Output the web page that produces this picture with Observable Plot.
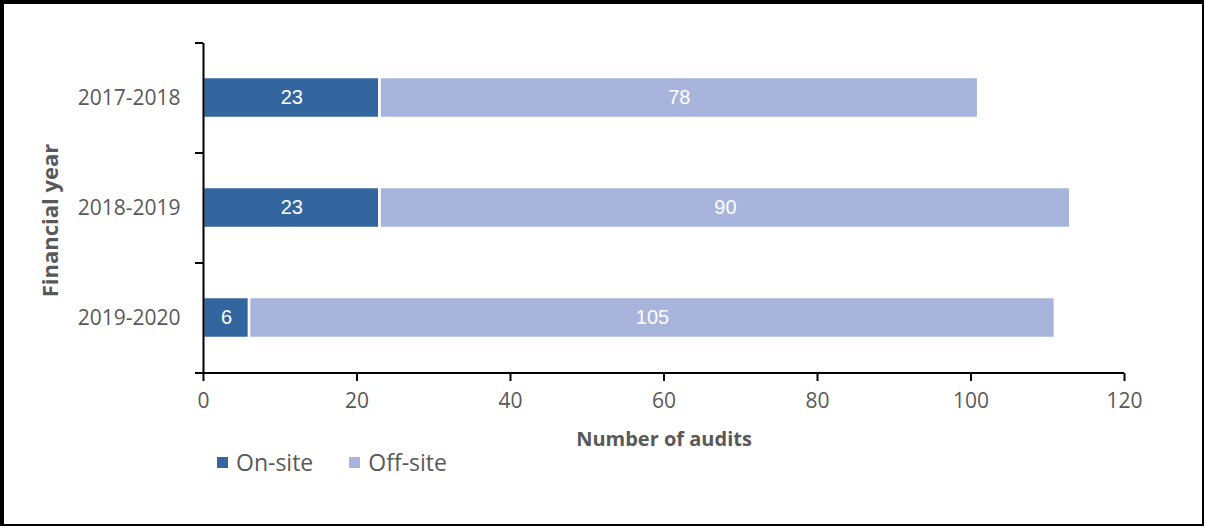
<!DOCTYPE html>
<html>
<head>
<meta charset="utf-8">
<script src="https://cdn.jsdelivr.net/npm/d3@7"></script>
<script src="https://cdn.jsdelivr.net/npm/@observablehq/plot@0.6"></script>
<style>
  html, body { margin: 0; padding: 0; background: #fff; }
  #wrap { position: relative; width: 1205px; height: 528px; overflow: hidden; font-family: "Open Sans", sans-serif; }
  #border { position: absolute; left: 0px; top: 0px; width: 1204px; height: 526px; box-sizing: border-box; border-style: solid; border-color: #000; border-width: 4px 2px 2px 4px; pointer-events: none; }
  #chart { position: absolute; left: 0; top: 0; }
  #legend { position: absolute; left: 217px; top: 451px; display: flex; align-items: center; font-size: 23px; line-height: 23px; color: #595959; font-family: "Open Sans", sans-serif; }
  .item { display: flex; align-items: center; }
  .sw { width: 11px; height: 11px; margin-right: 8px; }
</style>
</head>
<body>
<div id="wrap">
  <div id="chart"></div>
  <div id="legend"></div>
  <div id="border"></div>
</div>
<script>
const years = ["2017-2018", "2018-2019", "2019-2020"];
const series = ["On-site", "Off-site"];
const onSite = [23, 23, 6];
const offSite = [78, 90, 105];
const colors = ["#33669F", "#A9B4DD"];
const xTicks = [0, 20, 40, 60, 80, 100, 120];

const data = [];
years.forEach((y, i) => {
  data.push({year: y, type: series[0], value: onSite[i]});
  data.push({year: y, type: series[1], value: offSite[i]});
});

const W = 1205, H = 451;
const mTop = 43, mBottom = H - 373;
const step = (H - mTop - mBottom) / years.length;
const axisColor = "#000";
const textColor = "#595959";

const chart = Plot.plot({
  width: W,
  height: H,
  marginLeft: 203,
  marginRight: 81,
  marginTop: mTop,
  marginBottom: mBottom,
  style: {fontFamily: "Open Sans, sans-serif", background: "transparent", overflow: "visible"},
  x: {domain: [0, 120], axis: null},
  y: {domain: years, paddingInner: 0.627, paddingOuter: 0.3135, axis: null},
  color: {domain: series, range: colors},
  marks: [
    Plot.barX(data, Plot.stackX({x: "value", y: "year", fill: "type", stroke: "white", strokeWidth: 2.5})),
    Plot.text(data, Plot.stackX({x: "value", y: "year", z: "type", text: d => String(d.value), fill: "white", fontSize: 20, fontFamily: "Liberation Sans, Arial, sans-serif"})),
    // y axis line
    Plot.ruleX([0], {stroke: axisColor, strokeWidth: 2}),
    // x axis line
    Plot.ruleY([years[years.length - 1]], {stroke: axisColor, strokeWidth: 2, dy: step / 2, insetLeft: -8}),
    // y category labels
    Plot.axisY({tickSize: 0, tickPadding: 23, fontSize: 21, color: textColor, label: null}),
    // y boundary ticks
    Plot.axisY({tickSize: 8, tickFormat: () => "", label: null, dy: -step / 2, stroke: axisColor, strokeWidth: 2}),
    Plot.axisY([years[years.length - 1]], {tickSize: 8, tickFormat: () => "", label: null, dy: step / 2, stroke: axisColor, strokeWidth: 2}),
    // x axis ticks
    Plot.axisX(xTicks, {tickSize: 8, tickPadding: 12, fontSize: 21, stroke: axisColor, strokeWidth: 2, color: textColor, label: null, tickFormat: d => String(d)}),
    Plot.text(["Number of audits"], {frameAnchor: "bottom", dy: 58, lineAnchor: "top", fontSize: 20, fontWeight: "bold", fill: textColor}),
    Plot.text(["Financial year"], {frameAnchor: "left", textAnchor: "middle", dx: -153, dy: 12, rotate: -90, fontSize: 22, fontWeight: "bold", fill: textColor})
  ]
});
document.getElementById("chart").appendChild(chart);

const legend = document.getElementById("legend");
series.forEach((s, i) => {
  const item = document.createElement("div");
  item.className = "item";
  item.style.marginRight = i === 0 ? "36px" : "0";
  const sw = document.createElement("span");
  sw.className = "sw";
  sw.style.background = colors[i];
  const t = document.createElement("span");
  t.textContent = s;
  item.appendChild(sw);
  item.appendChild(t);
  legend.appendChild(item);
});
</script>
</body>
</html>
